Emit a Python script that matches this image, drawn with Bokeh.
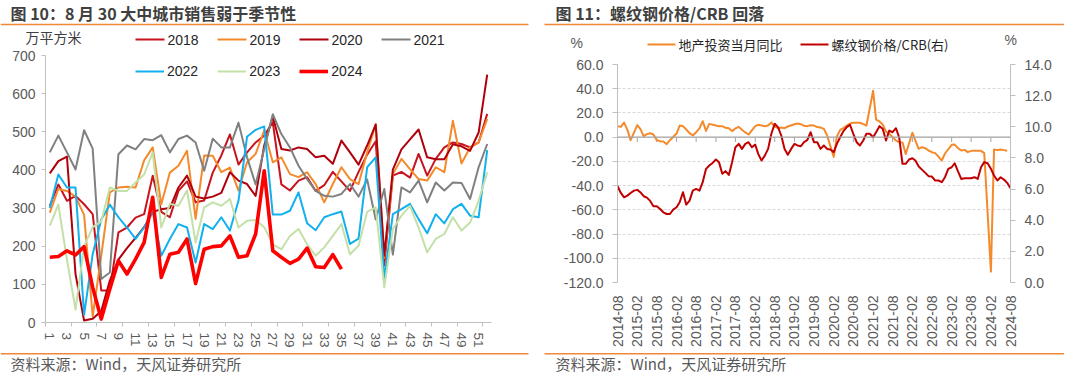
import math
import pandas as pd
from bokeh.plotting import figure
from bokeh.layouts import row, column
from bokeh.core.properties import value
from bokeh.models import (Range1d, LinearAxis, FixedTicker, PrintfTickFormatter,
                          DatetimeTickFormatter, Legend, LegendItem, Span)
from bokeh.embed import file_html
from bokeh.resources import INLINE

# ---------------- data: left chart (weekly sales, 万平方米) ----------------
weeks = list(range(1, 53))
week_tick_values = list(range(1, 52, 2))
years = ["2018", "2019", "2020", "2021", "2022", "2023", "2024"]
sales_2018 = [306, 362, 319, 332, 310, 284, 84, 84, 236, 249,
              275, 284, 385, 290, 276, 345, 370, 315, 320, 393,
              438, 493, 414, 446, 472, 490, 525, 362, 346, 372,
              381, 345, 360, 395, 370, 345, 395, 440, 475, 150,
              385, 395, 380, 442, 385, 429, 459, 472, 468, 459,
              472, 547]
sales_2019 = [288, 350, 345, 330, 282, 16, 175, 341, 354, 356,
              354, 425, 459, 310, 393, 411, 450, 272, 438, 437,
              394, 406, 346, 420, 442, 503, 420, 433, 389, 381,
              394, 363, 315, 363, 407, 376, 363, 446, 520, 170,
              389, 429, 402, 376, 372, 407, 394, 529, 417, 459,
              472, 534]
sales_2020 = [391, 423, 435, 127, 5, 10, 30, 110, 165, 195,
              222, 250, 290, 297, 300, 354, 385, 330, 325, 330,
              340, 394, 372, 363, 332, 464, 540, 455, 451, 459,
              455, 433, 437, 416, 477, 446, 414, 464, 519, 175,
              401, 454, 480, 506, 433, 428, 428, 467, 462, 450,
              498, 650]
sales_2021 = [446, 490, 446, 401, 504, 456, 114, 131, 441, 464,
              454, 481, 478, 491, 446, 481, 490, 472, 398, 482,
              459, 459, 524, 433, 362, 455, 546, 494, 459, 411,
              376, 345, 332, 330, 337, 363, 330, 375, 270, 350,
              178, 354, 341, 372, 315, 367, 346, 367, 366, 324,
              407, 468]
sales_2022 = [300, 388, 354, 354, 20, 179, 270, 309, 276, 249,
              219, 249, 290, 175, 219, 258, 249, 157, 258, 245,
              276, 241, 319, 487, 505, 514, 283, 283, 293, 341,
              260, 242, 276, 284, 291, 206, 220, 407, 433, 115,
              284, 297, 311, 271, 234, 284, 260, 297, 311, 280,
              276, 452]
sales_2023 = [254, 309, 165, 34, 200, 250, 265, 354, 345, 345,
              367, 388, 446, 249, 311, 306, 346, 210, 302, 315,
              306, 324, 249, 267, 269, 250, 205, 192, 227, 245,
              205, 175, 197, 227, 258, 179, 201, 290, 302, 92,
              245, 280, 306, 249, 184, 219, 232, 276, 241, 262,
              319, 394]
sales_2024 = [171, 173, 188, 177, 199, 92, 9, 88, 162, 127,
              166, 210, 328, 118, 179, 184, 219, 102, 192, 199,
              201, 227, 171, 175, 232, 398, 188, 171, 155, 166,
              195, 146, 144, 178, 140]

# ---------------- data: right chart ----------------
# 地产投资当月同比 (%), monthly from 2014-08 to 2024-07, January not published
invest_yoy = [9.1, 8.5, 12.0, 6.0, -2.5,
              10.0, 6.8, 0.8, 2.5, 3.3, 2.2, -2.5, -3.3, -3.6, -5.8, -2.5,
              3.0, 9.6, 9.1, 6.3, 3.3, 1.4, 4.1, 7.2, 13.2, 5.2, 11.0,
              9.6, 9.1, 9.1, 7.7, 7.4, 5.0, 7.2, 8.5, 6.1, 3.9, 2.2,
              9.1, 10.2, 9.6, 9.1, 9.6, 12.1, 8.8, 7.4, 8.0, 7.4, 8.8,
              10.7, 11.3, 10.7, 9.4, 9.1, 9.9, 9.6, 8.3, 8.0, 6.9, 1.5,
              -16.3, 0.5, 6.0, 7.5, 9.6, 11.3, 11.9, 11.9, 11.9, 10.7, 9.6,
              38.3, 14.5, 13.0, 10.5, 4.5, 2.8, 0.0, -2.8, -4.1, -4.3, -13.9,
              3.7, -2.8, -9.6, -8.3, -9.1, -11.0, -12.4, -13.2, -16.0, -19.3, -13.5,
              -6.3, -6.1, -9.1, -11.0, -10.5, -12.4, -11.3, -11.3, -11.3, -11.3, -13.2,
              -111.0, -10.2, -10.7, -10.2, -10.7, -11.2]
# 螺纹钢价格/CRB (right axis), monthly from 2014-08 to 2024-08
rebar_crb = [6.20, 5.75, 5.47, 5.58, 5.75, 5.90, 5.95, 5.80, 5.54, 5.45,
             5.24, 4.90, 4.90, 4.72, 4.51, 4.40, 4.40, 4.68, 4.83, 5.15,
             5.80, 5.00, 5.26, 5.90, 6.01, 5.90, 6.44, 7.30, 7.51, 7.68,
             7.90, 7.73, 6.98, 7.15, 6.91, 7.73, 8.69, 8.90, 8.58, 8.90,
             9.01, 8.69, 8.86, 8.26, 7.83, 8.15, 8.58, 9.55, 10.19, 9.98,
             9.44, 8.58, 8.20, 8.58, 8.90, 8.80, 8.75, 9.01, 9.16, 9.65,
             9.01, 9.01, 8.58, 8.80, 8.58, 8.54, 8.37, 8.90, 9.33, 9.72,
             9.98, 10.13, 9.55, 9.01, 8.80, 9.12, 9.55, 9.55, 9.33, 9.65,
             10.04, 9.87, 9.12, 9.76, 9.65, 9.91, 9.33, 7.62, 7.62, 7.90,
             7.98, 7.83, 7.45, 7.25, 7.04, 6.83, 6.80, 6.55, 6.55, 6.44,
             6.76, 7.30, 7.40, 7.66, 7.13, 6.65, 6.70, 6.70, 6.70, 6.76,
             6.65, 7.40, 7.73, 7.66, 7.30, 6.87, 6.55, 6.76, 6.61, 6.40,
             6.05]
left_ticks = [-120, -100, -80, -60, -40, -20, 0, 20, 40, 60]
right_ticks = [0, 2, 4, 6, 8, 10, 12, 14]

# ---------------- texts ----------------
title_left = "图 10：8 月 30 大中城市销售弱于季节性"
title_right = "图 11：螺纹钢价格/CRB 回落"
source_text = "资料来源：Wind，天风证券研究所"
unit_left = "万平方米"
unit_right = "%"
legend_right = ["地产投资当月同比", "螺纹钢价格/CRB(右)"]

# ---------------- styles ----------------
year_colors = ["#c8141e", "#f58a2c", "#b0000c", "#808080", "#12b0ee", "#c3e0a8", "#ff0000"]
year_widths = [2, 2, 2, 2, 2, 2, 3.6]
invest_color = "#f58a2c"
rebar_color = "#c00000"
ORANGE = "#f0883a"
AXIS = "#bfbfbf"
TICKTXT = "#595959"
TXT = "#404040"
LEGTXT = "#262626"
LATIN = "Liberation Sans"
CJK = "Noto Sans CJK SC"


def strip(px0, px1, py0, py1):
    """A decoration strip whose data coordinates equal page pixels."""
    f = figure(width=px1 - px0, height=py1 - py0, output_backend="svg", toolbar_location=None,
               title=None, x_range=Range1d(px0, px1), y_range=Range1d(py1, py0),
               x_axis_location=None, y_axis_location=None, frame_align=False,
               min_border_left=0, min_border_right=0, min_border_top=0, min_border_bottom=0)
    f.outline_line_color = None
    f.xgrid.visible = False
    f.ygrid.visible = False
    return f


def put_text(f, x, y, txt, font, size, color, bold=False):
    f.text(x=[x], y=[y], text=[txt], text_font=value(font), text_font_size=size,
           text_font_style="bold" if bold else "normal", text_color=color,
           text_baseline="middle", text_align="left")


def base_axis_style(ax):
    ax.axis_line_color = AXIS
    ax.major_tick_line_color = AXIS
    ax.minor_tick_line_color = None
    ax.major_label_text_color = TICKTXT
    ax.major_label_text_font = LATIN
    ax.major_label_text_font_size = "14px"


# ================= left panel =================
h1 = strip(8, 540, 8, 55)
put_text(h1, 18, 20, title_left, CJK, "16px", TXT, bold=True)
h1.segment(x0=[8], y0=[32], x1=[536], y1=[32], line_color=ORANGE, line_width=1.6)
put_text(h1, 33, 44.8, unit_left, CJK, "14px", TXT)
for i in range(4):
    lx = 143 + 82 * i
    h1.segment(x0=[lx], y0=[47], x1=[lx + 29], y1=[47], line_color=year_colors[i],
               line_width=year_widths[i])
    put_text(h1, lx + 32, 47, years[i], LATIN, "14px", LEGTXT)

p1 = figure(width=532, height=303, output_backend="svg", toolbar_location=None,
            x_range=Range1d(0.5, 52.5), y_range=Range1d(0, 700), title=None, frame_align=False,
            min_border_left=45, min_border_right=41, min_border_top=8, min_border_bottom=28)
p1.outline_line_color = None
p1.xgrid.visible = False
p1.ygrid.visible = False

series = [sales_2018, sales_2019, sales_2020, sales_2021, sales_2022, sales_2023, sales_2024]
renderers = []
for vals, col, lw in zip(series, year_colors, year_widths):
    r = p1.line(weeks[:len(vals)], vals, line_color=col, line_width=lw, line_join="round")
    renderers.append(r)

boundaries = [w - 0.5 for w in weeks[::3]]
p1.xaxis.ticker = FixedTicker(ticks=week_tick_values, minor_ticks=boundaries)
p1.yaxis.ticker = FixedTicker(ticks=list(range(0, 701, 100)))
for ax in p1.xaxis + p1.yaxis:
    base_axis_style(ax)
p1.xaxis.major_tick_out = 0
p1.xaxis.major_tick_in = 0
p1.xaxis.minor_tick_line_color = AXIS
p1.xaxis.minor_tick_out = 4
p1.xaxis.minor_tick_in = 0
p1.xaxis.major_label_orientation = -math.pi / 2
p1.xaxis.major_label_standoff = 6
p1.xaxis.major_label_text_font_size = "13.5px"
p1.yaxis.major_tick_out = 4
p1.yaxis.major_tick_in = 0
p1.yaxis.major_label_standoff = 6

leg_b = Legend(items=[LegendItem(label=years[i], renderers=[renderers[i]]) for i in range(4, 7)],
               location=(143 - 53, 330 - 87), orientation="horizontal",
               glyph_width=29, glyph_height=16, label_height=16, label_standoff=3, spacing=19,
               padding=0, margin=0, border_line_color=None, background_fill_alpha=0,
               label_text_font=LATIN, label_text_font_size="14px", label_text_color=LEGTXT)
p1.add_layout(leg_b)

f1 = strip(8, 540, 358, 382)
f1.segment(x0=[8], y0=[361.2], x1=[536], y1=[361.2], line_color=ORANGE, line_width=1.6)
put_text(f1, 18, 371, source_text, CJK, "15px", TICKTXT)

# ================= right panel =================
h2 = strip(540, 1072, 8, 62)
put_text(h2, 563, 20, title_right, CJK, "16px", TXT, bold=True)
h2.segment(x0=[552], y0=[32], x1=[1072], y1=[32], line_color=ORANGE, line_width=1.6)
put_text(h2, 578, 50, unit_right, LATIN, "14px", TICKTXT)
put_text(h2, 1012, 47, unit_right, LATIN, "14px", TICKTXT)
h2.segment(x0=[655], y0=[52], x1=[683], y1=[52], line_color=invest_color, line_width=2)
put_text(h2, 686, 52, legend_right[0], CJK, "13px", LEGTXT)
h2.segment(x0=[808], y0=[52], x1=[836], y1=[52], line_color=rebar_color, line_width=2)
put_text(h2, 839, 52, legend_right[1], CJK, "13px", LEGTXT)

red_dates = pd.date_range("2014-08-01", periods=len(rebar_crb), freq="MS")
all_months = pd.date_range("2014-08-01", periods=120, freq="MS")
invest_dates = all_months[all_months.month != 1]
tick_dates = pd.date_range("2014-08-01", "2024-08-01", freq="6MS")
tick_ms = (tick_dates.asi8 // 10**6).tolist()

p2 = figure(width=532, height=296, output_backend="svg", toolbar_location=None, title=None,
            x_axis_type="datetime", frame_align=False,
            x_range=Range1d(red_dates[0], red_dates[-1]), y_range=Range1d(-120, 60),
            min_border_left=85, min_border_right=54, min_border_top=10, min_border_bottom=68)
p2.extra_y_ranges = {"r": Range1d(0, 14)}
p2.outline_line_color = None
p2.xgrid.visible = False

p2.yaxis.ticker = FixedTicker(ticks=left_ticks)
p2.yaxis.formatter = PrintfTickFormatter(format="%.1f")
raxis = LinearAxis(y_range_name="r", ticker=FixedTicker(ticks=right_ticks),
                   formatter=PrintfTickFormatter(format="%.1f"))
p2.add_layout(raxis, "right")

p2.ygrid.ticker = FixedTicker(ticks=left_ticks)
p2.ygrid.grid_line_color = "#d9d9d9"
p2.ygrid.grid_line_dash = "3 2"
p2.ygrid.grid_line_width = 1

for ax in p2.yaxis:
    base_axis_style(ax)
    ax.major_tick_out = 5
    ax.major_tick_in = 0
    ax.major_label_standoff = 9

xa = p2.xaxis[0]
base_axis_style(xa)
xa.ticker = FixedTicker(ticks=tick_ms)
fmt = "%Y-%m"
xa.formatter = DatetimeTickFormatter(microseconds=fmt, milliseconds=fmt, seconds=fmt, minsec=fmt,
                                     minutes=fmt, hourmin=fmt, hours=fmt, days=fmt, months=fmt,
                                     years=fmt, strip_leading_zeros=False)
xa.axis_line_color = None
xa.major_tick_line_color = None
xa.major_label_orientation = math.pi / 2
xa.major_label_standoff = 7

p2.add_layout(Span(location=0, dimension="width", line_color="#a6a6a6", line_width=1.3))
p2.segment(x0=list(tick_dates), y0=0, x1=list(tick_dates), y1=-4, line_color="#a6a6a6", line_width=1)

p2.line(list(invest_dates), invest_yoy, line_color=invest_color, line_width=2, line_join="round")
p2.line(list(red_dates), rebar_crb, y_range_name="r", line_color=rebar_color, line_width=2,
        line_join="round")

f2 = strip(540, 1072, 358, 382)
f2.segment(x0=[552], y0=[361.2], x1=[1072], y1=[361.2], line_color=ORANGE, line_width=1.6)
put_text(f2, 563, 371, source_text, CJK, "15px", TICKTXT)

layout = row(column(h1, p1, f1), column(h2, p2, f2))
open("out.html", "w").write(file_html(layout, INLINE))
